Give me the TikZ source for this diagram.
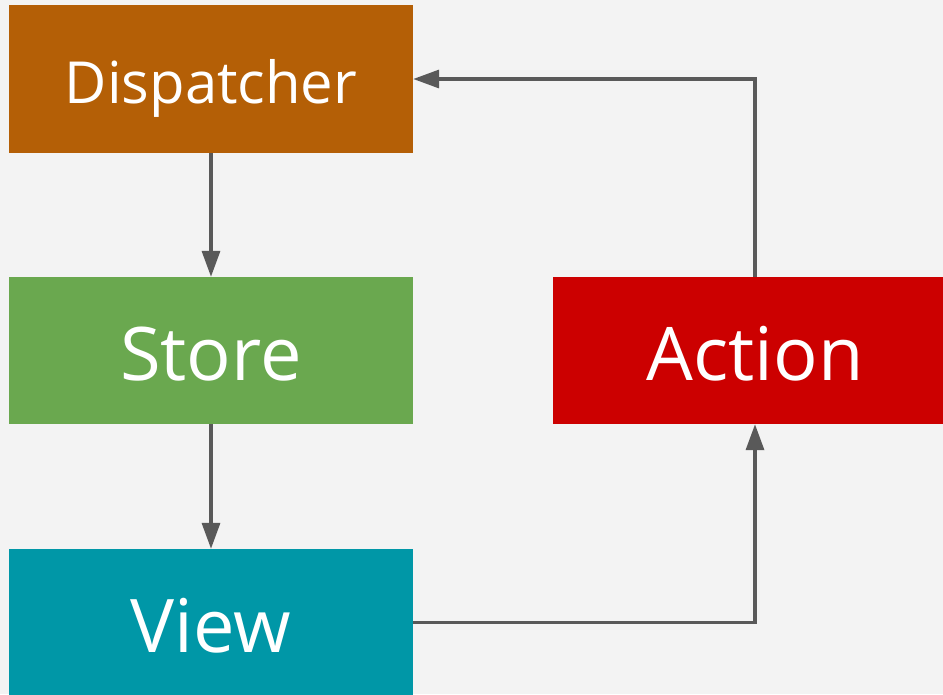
\documentclass[tikz,border=0pt]{standalone}
\usepackage{fontspec}
\setmainfont{Open Sans}
\usetikzlibrary{arrows.meta}
\definecolor{bg}{HTML}{F3F3F3}
\definecolor{cdisp}{HTML}{B45F06}
\definecolor{cstore}{HTML}{6AA84F}
\definecolor{cview}{HTML}{0097A7}
\definecolor{cact}{HTML}{CC0000}
\definecolor{cline}{HTML}{595959}
\tikzset{
  box/.style={draw=none, minimum width=404pt, inner sep=0pt, text=white, text depth=0pt},
  big/.style={font=\fontsize{74}{80}\selectfont, text height=60pt, minimum height=147pt},
  conn/.style={draw=cline, line width=3.4pt, -{Triangle[length=26pt,width=18pt]}}
}
\begin{document}
\begin{tikzpicture}[x=1pt,y=-1pt]
\useasboundingbox (0,0) rectangle (943,694);
\clip (0,0) rectangle (943,694);
\fill[bg] (0,0) rectangle (943,694);
\node[box, fill=cdisp, minimum height=148pt, font=\fontsize{58}{64}\selectfont, text height=48pt] (disp) at (211,79) {Dispatcher};
\node[box, big, fill=cstore] (store) at (211,350.5) {Store};
\node[box, big, fill=cview] (view) at (211,622.5) {View};
\node[box, big, fill=cact] (act) at (755,350.5) {Action};
\draw[conn] (disp) -- (store);
\draw[conn] (store) -- (view);
\draw[conn] (view.east) -| (act.south);
\draw[conn] (act.north) |- (disp.east);
\end{tikzpicture}
\end{document}
